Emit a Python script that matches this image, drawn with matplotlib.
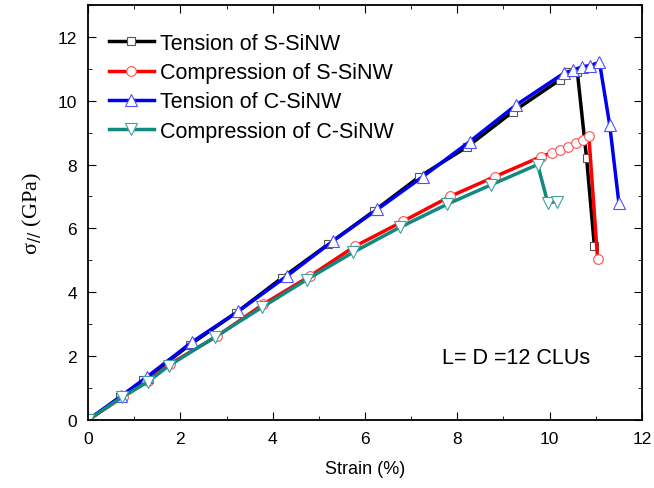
import numpy as np
import matplotlib.pyplot as plt
from matplotlib.ticker import MultipleLocator

# stress-strain curves
s_ten_x = [0.0, 0.7, 1.2, 2.2, 3.2, 4.2, 5.2, 6.2, 7.18, 8.22, 9.2, 10.22, 10.43, 10.6, 10.8, 10.97]
s_ten_y = [0.0, 0.72, 1.25, 2.35, 3.35, 4.45, 5.5, 6.55, 7.62, 8.56, 9.65, 10.65, 10.9, 10.9, 8.2, 5.44]

s_com_x = [0.0, 0.75, 1.3, 1.77, 2.8, 3.8, 4.8, 5.78, 6.82, 7.84, 8.81, 9.82, 10.05, 10.22, 10.39, 10.58, 10.72, 10.85, 11.04]
s_com_y = [0.0, 0.72, 1.22, 1.75, 2.63, 3.63, 4.5, 5.44, 6.22, 7.0, 7.62, 8.25, 8.37, 8.47, 8.56, 8.68, 8.78, 8.88, 5.03]

c_ten_x = [0.0, 0.72, 1.27, 2.25, 3.25, 4.3, 5.3, 6.27, 7.25, 8.27, 9.28, 10.32, 10.5, 10.7, 10.87, 11.08, 11.3, 11.5]
c_ten_y = [0.0, 0.75, 1.34, 2.44, 3.4, 4.5, 5.6, 6.6, 7.62, 8.72, 9.87, 10.87, 10.95, 11.06, 11.1, 11.2, 9.25, 6.8]

c_com_x = [0.0, 0.74, 1.3, 1.75, 2.75, 3.77, 4.74, 5.74, 6.75, 7.77, 8.74, 9.74, 9.96, 10.15]
c_com_y = [0.0, 0.72, 1.2, 1.7, 2.6, 3.53, 4.4, 5.25, 6.03, 6.75, 7.37, 8.0, 6.8, 6.84]

plt.rcParams['font.family'] = ['Liberation Sans', 'DejaVu Sans']

fig = plt.figure(figsize=(6.54, 4.89), dpi=100)
ax = fig.add_axes([0.1346, 0.139, 0.847, 0.849])

ax.plot(s_ten_x, s_ten_y, '-', color='black', lw=2.5, marker='s', ms=5.5,
        mfc='white', mec='#555555', mew=0.8, label='Tension of S-SiNW')
ax.plot(s_com_x, s_com_y, '-', color='red', lw=2.5, marker='o', ms=7,
        mfc='white', mec='#ff5050', mew=0.8, label='Compression of S-SiNW')
ax.plot(c_ten_x, c_ten_y, '-', color='#0000ee', lw=2.5, marker='^', ms=8,
        mfc='white', mec='#5050ff', mew=0.8, label='Tension of C-SiNW')
ax.plot(c_com_x, c_com_y, '-', color='#108a80', lw=2.5, marker='v', ms=8,
        mfc='white', mec='#40a0a0', mew=0.8, label='Compression of C-SiNW')

ax.set_xlim(0, 12)
ax.set_ylim(0, 13)
ax.xaxis.set_major_locator(MultipleLocator(2))
ax.xaxis.set_minor_locator(MultipleLocator(1))
ax.yaxis.set_major_locator(MultipleLocator(2))
ax.yaxis.set_minor_locator(MultipleLocator(1))
ax.tick_params(which='both', direction='in', top=True, right=True, labelsize=12.5)
ax.tick_params(which='major', length=6, pad=8)
ax.tick_params(which='minor', length=3)
for sp in ax.spines.values():
    sp.set_linewidth(1.3)

ax.set_xlabel('Strain (%)', fontsize=13, labelpad=10)
ax.set_ylabel(r'σ$_{//}$ (GPa)', fontsize=16, family='Liberation Serif', labelpad=10)

ax.text(7.66, 1.97, 'L= D =12 CLUs', fontsize=15.5, va='center')

ax.legend(loc='upper left', frameon=False, fontsize=15.5, handlelength=2.1,
          handletextpad=0.3, labelspacing=0.38, borderaxespad=0.0,
          bbox_to_anchor=(0.022, 0.953))

fig.savefig('out.png', dpi=100)
